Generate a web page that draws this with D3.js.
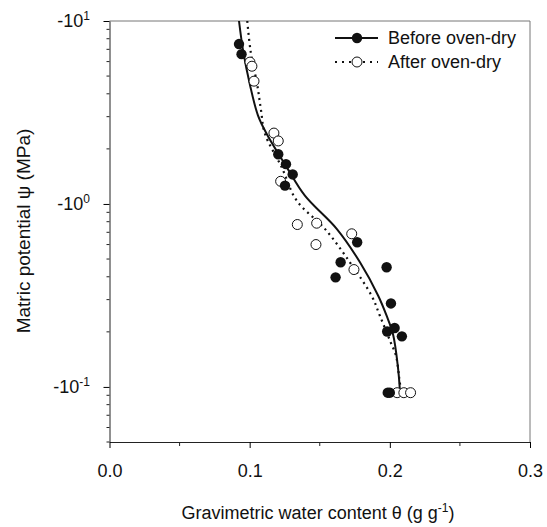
<!DOCTYPE html>
<html>
<head>
  <title>Matric potential vs water content</title>
  <script src="https://d3js.org/d3.v7.min.js"></script>
  <style>
    body { margin: 0; background: #fff; }
    text { font-family: Arial, "Liberation Sans", sans-serif; fill: #111; }
  </style>
</head>
<body>
  <svg id="chart"></svg>

  <script>
    // Data: theta (g g-1) and |psi| (MPa); psi is plotted as negative
    const beforeTheta = [0.0924, 0.0942, 0.1204, 0.1259, 0.1307, 0.1252, 0.1767, 0.1649, 0.1613, 0.1977, 0.2008, 0.1981, 0.2034, 0.2086, 0.1985, 0.2000];
    const beforePsi   = [7.48, 6.59, 1.87, 1.65, 1.45, 1.26, 0.618, 0.480, 0.397, 0.451, 0.286, 0.201, 0.210, 0.189, 0.093, 0.093];

    const afterTheta = [0.1002, 0.1016, 0.1031, 0.1173, 0.1204, 0.1221, 0.1340, 0.1478, 0.1473, 0.1728, 0.1744, 0.2052, 0.2100, 0.2148];
    const afterPsi   = [5.96, 5.66, 4.69, 2.44, 2.21, 1.33, 0.772, 0.785, 0.600, 0.687, 0.438, 0.093, 0.093, 0.093];

    // fitted curves
    const fitBeforeTheta = [0.0924, 0.0954, 0.1002, 0.1059, 0.1121, 0.1264, 0.1394, 0.1621, 0.1787, 0.1917, 0.1977, 0.2022, 0.2058, 0.2072];
    const fitBeforePsi   = [10, 6.82, 4.48, 3.05, 2.42, 1.59, 1.11, 0.731, 0.480, 0.315, 0.245, 0.195, 0.128, 0.095];

    const fitAfterTheta = [0.0983, 0.1007, 0.1054, 0.1081, 0.1109, 0.1228, 0.1335, 0.1537, 0.1715, 0.1870, 0.1929, 0.2001, 0.2044, 0.2067, 0.2079];
    const fitAfterPsi   = [10, 6.82, 4.48, 3.25, 2.42, 1.59, 1.045, 0.731, 0.480, 0.315, 0.245, 0.179, 0.148, 0.112, 0.095];

    const xTicks = [0, 0.1, 0.2, 0.3];
    const xMinor = [0.05, 0.15, 0.25];
    const yExps = [1, 0, -1];

    const zip = (a, b) => a.map((v, i) => [v, b[i]]);

    const width = 547, height = 527;
    const m = { left: 109.5, right: 17, top: 21, bottom: 85 };

    const svg = d3.select("#chart")
                  .attr("width", width)
                  .attr("height", height);

    const x = d3.scaleLinear()
                .domain([0, 0.3])
                .range([m.left, width - m.right]);

    const y = d3.scaleLog()
                .domain([0.05, 10])
                .range([height - m.bottom, m.top]);

    // frame (top/right lighter)
    svg.append("line")
       .attr("x1", x(0)).attr("x2", x(0.3))
       .attr("y1", m.top).attr("y2", m.top)
       .attr("stroke", "#777").attr("stroke-width", 1);
    svg.append("line")
       .attr("x1", x(0.3)).attr("x2", x(0.3))
       .attr("y1", m.top).attr("y2", height - m.bottom)
       .attr("stroke", "#777").attr("stroke-width", 1);

    // x axis
    const xAxis = svg.append("g")
       .attr("transform", `translate(0,${height - m.bottom})`)
       .call(d3.axisBottom(x).tickValues(xTicks).tickFormat(d3.format(".1f"))
               .tickSizeInner(6).tickSizeOuter(0).tickPadding(16));
    xAxis.selectAll("text").attr("font-size", 18).attr("font-family", "Arial, 'Liberation Sans', sans-serif");
    xAxis.select(".domain").attr("stroke", "#222");
    xAxis.selectAll(".minor")
       .data(xMinor).enter().append("line")
       .attr("class", "minor")
       .attr("x1", d => x(d)).attr("x2", d => x(d))
       .attr("y1", 0).attr("y2", 4)
       .attr("stroke", "#222");

    // y axis
    const minorY = [];
    [1, 0.1, 0.01].forEach(dec => {
      for (let k = 2; k <= 9; k++) {
        const v = k * dec;
        if (v >= 0.05 && v < 10 && Math.abs(Math.log10(v) % 1) > 1e-9) minorY.push(v);
      }
    });

    const yAxis = svg.append("g")
       .attr("transform", `translate(${m.left},0)`)
       .call(d3.axisLeft(y).tickValues(yExps.map(e => Math.pow(10, e)))
               .tickFormat("").tickSizeInner(6).tickSizeOuter(0));
    yAxis.select(".domain").attr("stroke", "#222");
    yAxis.selectAll(".minor")
       .data(minorY).enter().append("line")
       .attr("class", "minor")
       .attr("x1", -3).attr("x2", 0)
       .attr("y1", d => y(d)).attr("y2", d => y(d))
       .attr("stroke", "#222");

    const yLab = svg.selectAll(".ylab")
       .data(yExps).enter().append("text")
       .attr("class", "ylab")
       .attr("x", 90)
       .attr("y", d => y(Math.pow(10, d)) + 6)
       .attr("text-anchor", "end")
       .attr("font-size", 18);
    yLab.append("tspan").text("-10");
    yLab.append("tspan")
        .attr("dy", -7)
        .attr("font-size", 12)
        .text(d => d);

    // curves
    const line = d3.line()
                   .x(d => x(d[0]))
                   .y(d => y(d[1]))
                   .curve(d3.curveCatmullRom.alpha(0.5));

    svg.append("path")
       .attr("d", line(zip(fitAfterTheta, fitAfterPsi)))
       .attr("fill", "none")
       .attr("stroke", "#111")
       .attr("stroke-width", 2.2)
       .attr("stroke-dasharray", "2,4");

    svg.append("path")
       .attr("d", line(zip(fitBeforeTheta, fitBeforePsi)))
       .attr("fill", "none")
       .attr("stroke", "#111")
       .attr("stroke-width", 2);

    // points
    svg.selectAll(".after")
       .data(zip(afterTheta, afterPsi)).enter().append("circle")
       .attr("class", "after")
       .attr("cx", d => x(d[0])).attr("cy", d => y(d[1]))
       .attr("r", 5)
       .attr("fill", "#fff").attr("stroke", "#111").attr("stroke-width", 1);

    svg.selectAll(".before")
       .data(zip(beforeTheta, beforePsi)).enter().append("circle")
       .attr("class", "before")
       .attr("cx", d => x(d[0])).attr("cy", d => y(d[1]))
       .attr("r", 5.2)
       .attr("fill", "#111");

    // legend
    const legend = svg.append("g");
    legend.append("line")
       .attr("x1", 335).attr("x2", 378).attr("y1", 38).attr("y2", 38)
       .attr("stroke", "#111").attr("stroke-width", 2);
    legend.append("circle").attr("cx", 357).attr("cy", 38).attr("r", 5.2).attr("fill", "#111");
    legend.append("text").attr("x", 388).attr("y", 44).attr("font-size", 18).text("Before oven-dry");

    legend.append("line")
       .attr("x1", 335).attr("x2", 378).attr("y1", 62).attr("y2", 62)
       .attr("stroke", "#111").attr("stroke-width", 2.2)
       .attr("stroke-dasharray", "2,5");
    legend.append("circle").attr("cx", 357).attr("cy", 62).attr("r", 5)
       .attr("fill", "#fff").attr("stroke", "#111").attr("stroke-width", 1);
    legend.append("text").attr("x", 388).attr("y", 68).attr("font-size", 18).text("After oven-dry");

    // axis titles
    const xt = svg.append("text")
       .attr("x", 318).attr("y", 519)
       .attr("text-anchor", "middle")
       .attr("font-size", 18)
       .text("Gravimetric water content θ (g g");
    xt.append("tspan").attr("dy", -7).attr("font-size", 12).text("-1");
    xt.append("tspan").attr("dy", 7).text(")");

    svg.append("text")
       .attr("transform", "translate(30,231) rotate(-90)")
       .attr("text-anchor", "middle")
       .attr("font-size", 19)
       .text("Matric potential ψ (MPa)");
  </script>
</body>
</html>
